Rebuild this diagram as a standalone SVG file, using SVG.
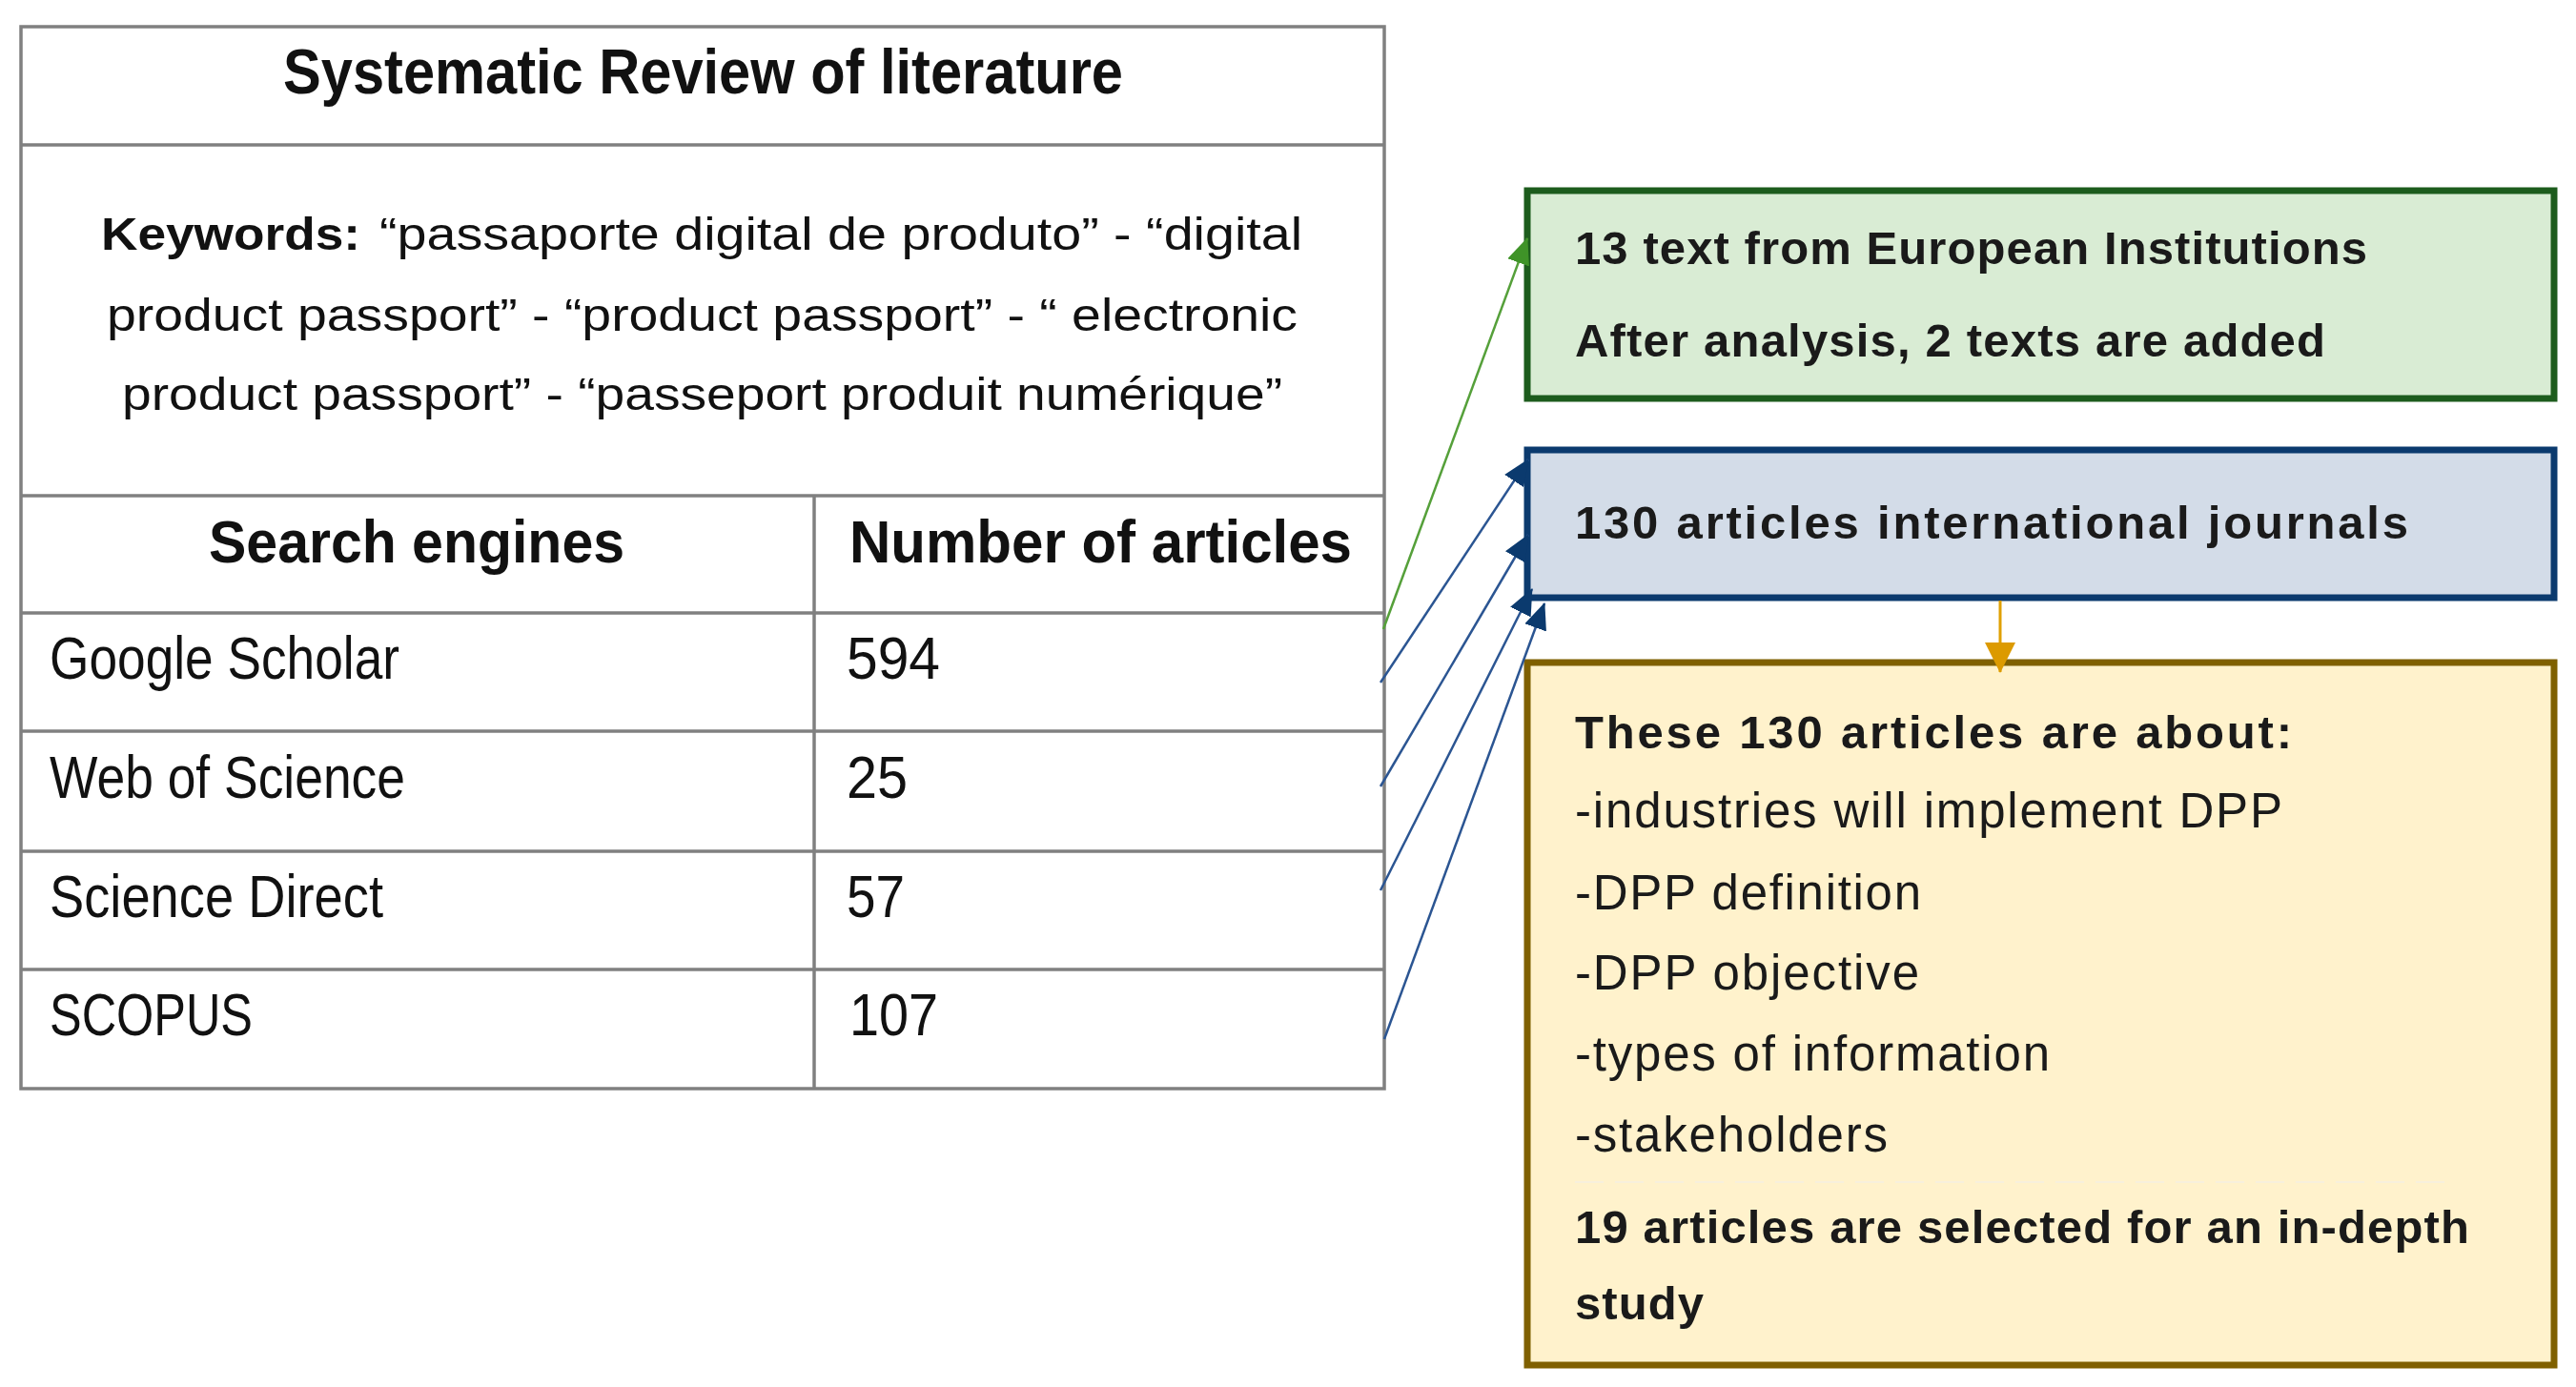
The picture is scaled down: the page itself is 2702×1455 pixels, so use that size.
<svg xmlns="http://www.w3.org/2000/svg" width="2702" height="1455" viewBox="0 0 2702 1455">
<defs>
<style>
.tb{fill:none;stroke:#808080;stroke-width:3.5}
.tt{font-family:"Liberation Sans Narrow","Liberation Sans",Arial,sans-serif;fill:#111}
.title{font-size:66px;font-weight:bold}
.hd{font-size:63px;font-weight:bold}
.cell{font-size:63px}
.kw{font-family:"Liberation Sans",Arial,sans-serif;font-size:48px;fill:#111}
.bx{font-family:"Liberation Sans",Arial,sans-serif;fill:#1a1a1a}
.b{font-size:49px;font-weight:bold}
.r{font-size:51px}
.gl{stroke:#55a03a;stroke-width:2.5;fill:none}
.bl{stroke:#2b5592;stroke-width:2.5;fill:none}
.ol{stroke:#e0a000;stroke-width:3;fill:none}
</style>
<marker id="ag" viewBox="0 0 28 24" refX="27" refY="12" markerWidth="28" markerHeight="24" markerUnits="userSpaceOnUse" orient="auto"><path d="M0,0 L28,12 L0,24 z" fill="#3f9328"/></marker>
<marker id="ab" viewBox="0 0 28 24" refX="27" refY="12" markerWidth="28" markerHeight="24" markerUnits="userSpaceOnUse" orient="auto"><path d="M0,0 L28,12 L0,24 z" fill="#0b3a6e"/></marker>
<marker id="ao" viewBox="0 0 32 32" refX="31" refY="16" markerWidth="32" markerHeight="32" markerUnits="userSpaceOnUse" orient="auto"><path d="M0,0 L32,16 L0,32 z" fill="#dc9a00"/></marker>
</defs>
<rect width="2702" height="1455" fill="#ffffff"/>

<g id="table">
<rect class="tb" x="22" y="28" width="1430" height="1114"/>
<line class="tb" x1="22" y1="152" x2="1452" y2="152"/>
<line class="tb" x1="22" y1="520" x2="1452" y2="520"/>
<line class="tb" x1="22" y1="643" x2="1452" y2="643"/>
<line class="tb" x1="22" y1="767" x2="1452" y2="767"/>
<line class="tb" x1="22" y1="893" x2="1452" y2="893"/>
<line class="tb" x1="22" y1="1017" x2="1452" y2="1017"/>
<line class="tb" x1="854" y1="520" x2="854" y2="1142"/>
<text class="tt title" x="297" y="98" textLength="881" lengthAdjust="spacingAndGlyphs">Systematic Review of literature</text>
<text class="kw" x="106" y="262" font-weight="bold" textLength="272" lengthAdjust="spacingAndGlyphs">Keywords:</text>
<text class="kw" x="398" y="262" textLength="968" lengthAdjust="spacingAndGlyphs">“passaporte digital de produto” - “digital</text>
<text class="kw" x="112" y="347" textLength="1249" lengthAdjust="spacingAndGlyphs">product passport” - “product passport” - “ electronic</text>
<text class="kw" x="128" y="430" textLength="1217" lengthAdjust="spacingAndGlyphs">product passport” - “passeport produit numérique”</text>
<text class="tt hd" x="219" y="590" textLength="436" lengthAdjust="spacingAndGlyphs">Search engines</text>
<text class="tt hd" x="891" y="590" textLength="527" lengthAdjust="spacingAndGlyphs">Number of articles</text>
<text class="tt cell" x="52" y="712" textLength="367" lengthAdjust="spacingAndGlyphs">Google Scholar</text>
<text class="tt cell" x="52" y="837" textLength="373" lengthAdjust="spacingAndGlyphs">Web of Science</text>
<text class="tt cell" x="52" y="962" textLength="350" lengthAdjust="spacingAndGlyphs">Science Direct</text>
<text class="tt cell" x="52" y="1086" textLength="213" lengthAdjust="spacingAndGlyphs">SCOPUS</text>
<text class="tt cell" x="888" y="712" textLength="98" lengthAdjust="spacingAndGlyphs">594</text>
<text class="tt cell" x="888" y="837" textLength="64" lengthAdjust="spacingAndGlyphs">25</text>
<text class="tt cell" x="888" y="962" textLength="61" lengthAdjust="spacingAndGlyphs">57</text>
<text class="tt cell" x="891" y="1086" textLength="93" lengthAdjust="spacingAndGlyphs">107</text>
</g>

<g id="eu-box">
<rect x="1602" y="200" width="1077" height="218" fill="#d9ecd4" stroke="#1d5c1d" stroke-width="7"/>
<text class="bx b" x="1652" y="277" textLength="831" lengthAdjust="spacing">13 text from European Institutions</text>
<text class="bx b" x="1652" y="374" textLength="787" lengthAdjust="spacing">After analysis, 2 texts are added</text>
</g>

<g id="journals-box">
<rect x="1602" y="472" width="1077" height="155" fill="#d3dce8" stroke="#0b3a6e" stroke-width="7"/>
<text class="bx b" x="1652" y="565" textLength="874" lengthAdjust="spacing">130 articles international journals</text>
</g>

<g id="about-box">
<rect x="1602" y="695" width="1077" height="737" fill="#fff2cc" stroke="#7f6000" stroke-width="7"/>
<text class="bx b" x="1652" y="785" textLength="752" lengthAdjust="spacing">These 130 articles are about:</text>
<text class="bx r" x="1652" y="868" textLength="742" lengthAdjust="spacing">-industries will implement DPP</text>
<text class="bx r" x="1652" y="954" textLength="363" lengthAdjust="spacing">-DPP definition</text>
<text class="bx r" x="1652" y="1038" textLength="361" lengthAdjust="spacing">-DPP objective</text>
<text class="bx r" x="1652" y="1123" textLength="498" lengthAdjust="spacing">-types of information</text>
<text class="bx r" x="1652" y="1208" textLength="328" lengthAdjust="spacing">-stakeholders</text>
<line x1="1652" y1="1240" x2="2572" y2="1240" stroke="#f7f0dc" stroke-width="2" stroke-dasharray="30 12"/>
<text class="bx b" x="1652" y="1304" textLength="938" lengthAdjust="spacing">19 articles are selected for an in-depth</text>
<text class="bx b" x="1652" y="1384" textLength="135" lengthAdjust="spacing">study</text>
</g>

<g id="connectors">
<line class="gl" x1="1451" y1="660" x2="1602" y2="250" marker-end="url(#ag)"/>
<line class="bl" x1="1448" y1="716" x2="1603" y2="482" marker-end="url(#ab)"/>
<line class="bl" x1="1448" y1="825" x2="1603" y2="561" marker-end="url(#ab)"/>
<line class="bl" x1="1448" y1="934" x2="1607" y2="618" marker-end="url(#ab)"/>
<line class="bl" x1="1452" y1="1090" x2="1620" y2="633" marker-end="url(#ab)"/>
<line class="ol" x1="2098" y1="630" x2="2098" y2="705" marker-end="url(#ao)"/>
</g>
</svg>
